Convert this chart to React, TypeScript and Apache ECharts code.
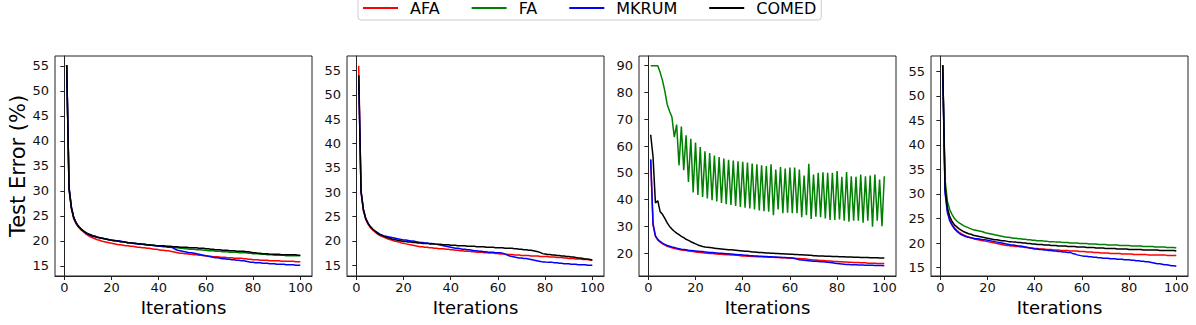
import React, { useEffect, useRef } from "react";
import * as echarts from "echarts";

const seriesNames = ["AFA", "FA", "MKRUM", "COMED"];
const seriesColors = ["#ff0000", "#008000", "#0000ff", "#000000"];
const iterations = Array.from({ length: 100 }, (_, i) => i + 1);
const xTicks = [0, 20, 40, 60, 80, 100];
const yTicksSmall = [15, 20, 25, 30, 35, 40, 45, 50, 55];
const yTicksLarge = [20, 30, 40, 50, 60, 70, 80, 90];

// Panel 1
const p1Afa = [55.2, 30.2, 26.4, 24.4, 23.4, 22.7, 22.2, 21.8, 21.4, 21.1,
  20.8, 20.6, 20.4, 20.2, 20.1, 19.9, 19.8, 19.7, 19.6, 19.5,
  19.4, 19.3, 19.2, 19.2, 19.1, 19.0, 19.0, 18.9, 18.9, 18.8,
  18.7, 18.7, 18.6, 18.6, 18.5, 18.5, 18.4, 18.3, 18.3, 18.2,
  18.1, 18.1, 18.0, 18.0, 17.9, 17.8, 17.7, 17.6, 17.5, 17.5,
  17.4, 17.4, 17.3, 17.3, 17.2, 17.2, 17.1, 17.1, 17.0, 17.0,
  16.9, 16.9, 16.8, 16.8, 16.8, 16.7, 16.7, 16.7, 16.6, 16.6,
  16.6, 16.5, 16.5, 16.5, 16.5, 16.4, 16.4, 16.3, 16.3, 16.2,
  16.2, 16.2, 16.1, 16.1, 16.1, 16.1, 16.0, 16.0, 16.0, 16.0,
  16.0, 15.9, 15.9, 15.9, 15.9, 15.9, 15.9, 15.8, 15.8, 15.8];
const p1Fa = [55.2, 30.5, 26.6, 24.6, 23.6, 22.9, 22.4, 22.0, 21.7, 21.4,
  21.2, 21.0, 20.9, 20.7, 20.6, 20.5, 20.4, 20.3, 20.2, 20.1,
  20.0, 20.0, 19.9, 19.8, 19.8, 19.7, 19.6, 19.6, 19.5, 19.5,
  19.4, 19.4, 19.3, 19.3, 19.2, 19.2, 19.1, 19.1, 19.0, 19.0,
  19.0, 18.9, 18.9, 18.8, 18.8, 18.7, 18.6, 18.6, 18.5, 18.5,
  18.4, 18.4, 18.3, 18.3, 18.3, 18.2, 18.2, 18.2, 18.1, 18.1,
  18.0, 18.0, 18.0, 17.9, 17.9, 17.9, 17.8, 17.8, 17.8, 17.7,
  17.7, 17.7, 17.7, 17.6, 17.6, 17.6, 17.6, 17.5, 17.5, 17.4,
  17.4, 17.4, 17.3, 17.3, 17.3, 17.2, 17.2, 17.2, 17.1, 17.1,
  17.1, 17.1, 17.1, 17.0, 17.0, 17.0, 17.0, 17.0, 17.0, 17.0];
const p1Mkrum = [55.2, 30.8, 26.8, 24.7, 23.6, 22.9, 22.4, 22.0, 21.6, 21.3,
  21.1, 20.9, 20.8, 20.7, 20.6, 20.5, 20.4, 20.3, 20.2, 20.1,
  20.1, 20.0, 20.0, 19.9, 19.8, 19.7, 19.6, 19.6, 19.5, 19.4,
  19.4, 19.3, 19.3, 19.2, 19.2, 19.1, 19.1, 19.0, 19.0, 18.9,
  18.9, 18.8, 18.8, 18.7, 18.7, 18.6, 18.3, 18.1, 18.0, 17.9,
  17.8, 17.7, 17.6, 17.6, 17.5, 17.4, 17.3, 17.2, 17.1, 17.0,
  16.9, 16.8, 16.7, 16.6, 16.6, 16.5, 16.4, 16.4, 16.3, 16.3,
  16.2, 16.2, 16.1, 16.1, 16.0, 16.0, 15.9, 15.8, 15.7, 15.7,
  15.6, 15.6, 15.6, 15.5, 15.5, 15.5, 15.4, 15.4, 15.4, 15.3,
  15.3, 15.3, 15.3, 15.2, 15.2, 15.2, 15.2, 15.1, 15.1, 15.1];
const p1Comed = [55.2, 30.5, 26.6, 24.6, 23.6, 22.9, 22.4, 22.0, 21.7, 21.4,
  21.2, 21.0, 20.9, 20.7, 20.6, 20.5, 20.4, 20.3, 20.2, 20.1,
  20.0, 20.0, 19.9, 19.8, 19.8, 19.7, 19.6, 19.6, 19.5, 19.5,
  19.4, 19.4, 19.3, 19.3, 19.2, 19.2, 19.1, 19.1, 19.0, 19.0,
  19.0, 19.0, 18.9, 18.9, 18.9, 18.8, 18.8, 18.8, 18.7, 18.7,
  18.7, 18.7, 18.6, 18.6, 18.6, 18.6, 18.5, 18.5, 18.5, 18.4,
  18.4, 18.3, 18.3, 18.2, 18.2, 18.2, 18.1, 18.1, 18.1, 18.0,
  18.0, 18.0, 17.9, 17.9, 17.9, 17.9, 17.8, 17.8, 17.7, 17.6,
  17.6, 17.5, 17.5, 17.4, 17.4, 17.4, 17.3, 17.3, 17.3, 17.3,
  17.3, 17.2, 17.2, 17.2, 17.2, 17.2, 17.2, 17.2, 17.1, 17.1];

// Panel 2
const p2Afa = [56.0, 30.0, 26.2, 24.4, 23.4, 22.7, 22.2, 21.8, 21.4, 21.1,
  20.9, 20.7, 20.5, 20.3, 20.2, 20.0, 19.9, 19.8, 19.6, 19.5,
  19.4, 19.3, 19.2, 19.1, 19.0, 18.9, 18.8, 18.8, 18.7, 18.7,
  18.6, 18.6, 18.5, 18.5, 18.4, 18.4, 18.4, 18.3, 18.3, 18.2,
  18.2, 18.1, 18.1, 18.0, 18.0, 17.9, 17.9, 17.9, 17.8, 17.8,
  17.7, 17.7, 17.7, 17.6, 17.6, 17.5, 17.5, 17.5, 17.4, 17.4,
  17.3, 17.3, 17.3, 17.2, 17.2, 17.2, 17.1, 17.1, 17.1, 17.0,
  17.0, 17.0, 17.0, 16.9, 16.9, 16.9, 16.9, 16.8, 16.8, 16.8,
  16.8, 16.7, 16.7, 16.7, 16.6, 16.6, 16.6, 16.5, 16.5, 16.4,
  16.4, 16.4, 16.3, 16.3, 16.3, 16.2, 16.2, 16.2, 16.1, 16.1];
const p2Mkrum = [54.0, 30.3, 26.5, 24.6, 23.6, 22.9, 22.4, 22.0, 21.7, 21.4,
  21.2, 21.0, 20.9, 20.8, 20.7, 20.6, 20.5, 20.4, 20.3, 20.2,
  20.2, 20.1, 20.0, 20.0, 19.9, 19.8, 19.7, 19.7, 19.6, 19.6,
  19.5, 19.5, 19.4, 19.3, 19.2, 19.1, 19.0, 18.9, 18.8, 18.7,
  18.6, 18.5, 18.5, 18.4, 18.3, 18.3, 18.2, 18.2, 18.1, 18.0,
  18.0, 17.9, 17.9, 17.8, 17.8, 17.7, 17.7, 17.7, 17.6, 17.6,
  17.6, 17.5, 17.3, 17.1, 16.9, 16.8, 16.7, 16.6, 16.5, 16.5,
  16.4, 16.4, 16.3, 16.2, 16.1, 16.0, 15.9, 15.8, 15.7, 15.7,
  15.6, 15.6, 15.6, 15.5, 15.5, 15.4, 15.4, 15.3, 15.3, 15.3,
  15.2, 15.2, 15.2, 15.1, 15.1, 15.1, 15.1, 15.0, 15.0, 15.0];
const p2Comed = [54.0, 30.2, 26.4, 24.6, 23.6, 22.9, 22.4, 22.0, 21.6, 21.3,
  21.1, 20.9, 20.7, 20.6, 20.4, 20.3, 20.2, 20.1, 20.0, 19.9,
  19.9, 19.8, 19.8, 19.7, 19.7, 19.6, 19.6, 19.5, 19.5, 19.5,
  19.4, 19.4, 19.4, 19.3, 19.3, 19.3, 19.2, 19.2, 19.2, 19.1,
  19.1, 19.1, 19.0, 19.0, 19.0, 19.0, 18.9, 18.9, 18.9, 18.9,
  18.8, 18.8, 18.8, 18.8, 18.7, 18.7, 18.7, 18.7, 18.6, 18.6,
  18.6, 18.6, 18.5, 18.5, 18.5, 18.5, 18.4, 18.4, 18.3, 18.3,
  18.2, 18.2, 18.1, 18.1, 18.0, 17.9, 17.8, 17.6, 17.4, 17.3,
  17.2, 17.2, 17.1, 17.1, 17.0, 17.0, 16.9, 16.9, 16.8, 16.8,
  16.7, 16.7, 16.6, 16.5, 16.5, 16.4, 16.3, 16.3, 16.2, 16.1];

// Panel 3
const p3Afa = [55.0, 30.5, 26.3, 24.9, 24.1, 23.5, 23.0, 22.6, 22.3, 22.0,
  21.8, 21.6, 21.4, 21.2, 21.1, 21.0, 20.8, 20.7, 20.6, 20.5,
  20.4, 20.3, 20.2, 20.1, 20.0, 19.9, 19.9, 19.8, 19.7, 19.6,
  19.6, 19.5, 19.4, 19.4, 19.3, 19.3, 19.2, 19.2, 19.1, 19.0,
  19.0, 18.9, 18.9, 18.8, 18.8, 18.7, 18.7, 18.7, 18.6, 18.6,
  18.5, 18.5, 18.5, 18.4, 18.4, 18.3, 18.3, 18.3, 18.2, 18.2,
  18.1, 18.1, 18.0, 18.0, 17.9, 17.9, 17.8, 17.7, 17.6, 17.5,
  17.5, 17.4, 17.3, 17.3, 17.2, 17.1, 17.1, 17.0, 16.9, 16.9,
  16.8, 16.8, 16.7, 16.7, 16.6, 16.6, 16.5, 16.5, 16.5, 16.4,
  16.4, 16.4, 16.3, 16.3, 16.3, 16.3, 16.2, 16.2, 16.2, 16.2];
const p3Fa = [90.0, 90.0, 90.0, 90.0, 87.5, 84.5, 80.5, 75.5, 73.0, 70.8,
  63.3, 68.0, 52.8, 67.3, 51.0, 64.0, 46.6, 62.7, 42.7, 61.3,
  41.7, 59.6, 41.0, 58.0, 40.4, 57.4, 39.8, 56.5, 39.3, 55.9,
  38.8, 55.3, 38.3, 54.9, 38.0, 54.6, 37.6, 54.3, 37.3, 54.1,
  37.0, 53.8, 36.7, 53.5, 36.3, 53.2, 36.0, 52.8, 35.7, 52.5,
  35.5, 53.2, 34.2, 51.2, 36.3, 52.2, 34.9, 51.6, 35.1, 52.0,
  34.9, 52.0, 34.9, 51.2, 33.4, 49.0, 34.2, 53.4, 32.8, 49.4,
  33.6, 50.0, 33.4, 50.2, 33.0, 50.0, 32.4, 50.0, 32.4, 50.7,
  32.6, 48.5, 32.1, 50.3, 31.8, 48.7, 32.1, 48.5, 32.1, 49.4,
  31.4, 48.7, 32.1, 49.0, 29.9, 49.4, 32.1, 47.5, 30.1, 48.7];
const p3Mkrum = [55.0, 31.0, 26.6, 25.2, 24.4, 23.8, 23.3, 22.9, 22.6, 22.3,
  22.1, 21.9, 21.7, 21.5, 21.4, 21.3, 21.1, 21.0, 20.9, 20.8,
  20.7, 20.6, 20.6, 20.5, 20.4, 20.3, 20.3, 20.2, 20.1, 20.0,
  20.0, 19.9, 19.8, 19.8, 19.7, 19.6, 19.5, 19.4, 19.4, 19.3,
  19.2, 19.2, 19.1, 19.1, 19.0, 19.0, 18.9, 18.9, 18.8, 18.8,
  18.7, 18.7, 18.6, 18.6, 18.5, 18.5, 18.4, 18.4, 18.3, 18.3,
  18.2, 18.0, 17.8, 17.6, 17.5, 17.4, 17.3, 17.2, 17.1, 17.0,
  17.0, 16.9, 16.8, 16.8, 16.7, 16.6, 16.5, 16.4, 16.3, 16.2,
  16.1, 16.0, 15.9, 15.8, 15.8, 15.7, 15.7, 15.7, 15.6, 15.6,
  15.6, 15.5, 15.5, 15.5, 15.5, 15.4, 15.4, 15.4, 15.4, 15.3];
const p3Comed = [64.2, 56.0, 38.8, 39.6, 35.5, 34.5, 33.0, 31.3, 30.0, 29.0,
  28.2, 27.5, 26.9, 26.3, 25.8, 25.2, 24.8, 24.3, 23.9, 23.5,
  23.1, 22.8, 22.5, 22.3, 22.2, 22.1, 22.0, 21.9, 21.8, 21.7,
  21.6, 21.5, 21.4, 21.3, 21.3, 21.2, 21.1, 21.0, 20.9, 20.8,
  20.7, 20.7, 20.6, 20.5, 20.5, 20.4, 20.3, 20.3, 20.2, 20.1,
  20.1, 20.0, 20.0, 19.9, 19.9, 19.8, 19.8, 19.7, 19.7, 19.6,
  19.6, 19.5, 19.5, 19.4, 19.4, 19.3, 19.3, 19.2, 19.2, 19.1,
  19.1, 19.0, 19.0, 19.0, 18.9, 18.9, 18.9, 18.8, 18.8, 18.8,
  18.7, 18.7, 18.7, 18.6, 18.6, 18.6, 18.5, 18.5, 18.5, 18.4,
  18.4, 18.4, 18.4, 18.3, 18.3, 18.3, 18.3, 18.2, 18.2, 18.2];

// Panel 4
const p4Afa = [56.2, 30.8, 26.6, 24.8, 23.8, 23.1, 22.6, 22.2, 21.9, 21.6,
  21.4, 21.2, 21.1, 20.9, 20.8, 20.7, 20.6, 20.5, 20.4, 20.3,
  20.2, 20.1, 20.0, 19.9, 19.8, 19.7, 19.6, 19.5, 19.5, 19.4,
  19.4, 19.3, 19.3, 19.2, 19.2, 19.1, 19.1, 19.0, 19.0, 18.9,
  18.9, 18.8, 18.8, 18.8, 18.7, 18.7, 18.7, 18.6, 18.6, 18.6,
  18.5, 18.5, 18.5, 18.5, 18.4, 18.4, 18.4, 18.4, 18.3, 18.3,
  18.3, 18.2, 18.2, 18.2, 18.1, 18.1, 18.1, 18.0, 18.0, 18.0,
  18.0, 17.9, 17.9, 17.9, 17.9, 17.9, 17.8, 17.8, 17.8, 17.8,
  17.8, 17.7, 17.7, 17.7, 17.7, 17.7, 17.7, 17.6, 17.6, 17.6,
  17.6, 17.6, 17.6, 17.6, 17.6, 17.5, 17.5, 17.5, 17.5, 17.5];
const p4Fa = [56.2, 33.0, 28.5, 26.8, 25.8, 25.0, 24.5, 24.1, 23.8, 23.5,
  23.3, 23.1, 22.9, 22.7, 22.6, 22.5, 22.4, 22.3, 22.1, 22.0,
  21.9, 21.8, 21.7, 21.6, 21.5, 21.4, 21.3, 21.2, 21.2, 21.1,
  21.0, 21.0, 20.9, 20.9, 20.8, 20.8, 20.7, 20.7, 20.6, 20.6,
  20.5, 20.5, 20.5, 20.4, 20.4, 20.3, 20.3, 20.3, 20.2, 20.2,
  20.2, 20.1, 20.1, 20.1, 20.0, 20.0, 20.0, 20.0, 19.9, 19.9,
  19.9, 19.9, 19.8, 19.8, 19.8, 19.8, 19.7, 19.7, 19.7, 19.7,
  19.6, 19.6, 19.6, 19.6, 19.6, 19.5, 19.5, 19.5, 19.5, 19.5,
  19.4, 19.4, 19.4, 19.4, 19.4, 19.3, 19.3, 19.3, 19.3, 19.3,
  19.2, 19.2, 19.2, 19.2, 19.2, 19.1, 19.1, 19.1, 19.1, 19.0];
const p4Mkrum = [56.2, 30.2, 26.2, 24.5, 23.6, 22.9, 22.4, 22.0, 21.7, 21.5,
  21.3, 21.2, 21.1, 21.0, 20.9, 20.9, 20.8, 20.7, 20.7, 20.6,
  20.5, 20.4, 20.3, 20.2, 20.1, 20.0, 19.9, 19.8, 19.7, 19.6,
  19.6, 19.5, 19.4, 19.4, 19.3, 19.2, 19.1, 19.0, 18.9, 18.8,
  18.8, 18.7, 18.7, 18.6, 18.6, 18.5, 18.5, 18.4, 18.4, 18.3,
  18.3, 18.2, 18.2, 18.1, 18.1, 17.9, 17.8, 17.6, 17.5, 17.4,
  17.3, 17.3, 17.2, 17.2, 17.1, 17.1, 17.0, 17.0, 16.9, 16.9,
  16.9, 16.8, 16.8, 16.8, 16.7, 16.7, 16.7, 16.6, 16.6, 16.6,
  16.5, 16.5, 16.4, 16.4, 16.3, 16.3, 16.2, 16.2, 16.1, 16.0,
  15.9, 15.8, 15.8, 15.7, 15.6, 15.6, 15.5, 15.4, 15.4, 15.3];
const p4Comed = [56.2, 31.5, 27.2, 25.4, 24.4, 23.7, 23.3, 22.9, 22.6, 22.3,
  22.1, 21.9, 21.8, 21.6, 21.5, 21.4, 21.3, 21.2, 21.1, 21.0,
  20.9, 20.8, 20.7, 20.7, 20.6, 20.5, 20.5, 20.4, 20.3, 20.3,
  20.2, 20.2, 20.1, 20.1, 20.0, 20.0, 19.9, 19.9, 19.8, 19.8,
  19.7, 19.7, 19.7, 19.6, 19.6, 19.6, 19.5, 19.5, 19.5, 19.4,
  19.4, 19.4, 19.4, 19.3, 19.3, 19.3, 19.3, 19.2, 19.2, 19.2,
  19.2, 19.1, 19.1, 19.1, 19.1, 19.0, 19.0, 19.0, 19.0, 18.9,
  18.9, 18.9, 18.9, 18.9, 18.8, 18.8, 18.8, 18.8, 18.8, 18.7,
  18.7, 18.7, 18.7, 18.7, 18.7, 18.6, 18.6, 18.6, 18.6, 18.6,
  18.6, 18.6, 18.5, 18.5, 18.5, 18.5, 18.5, 18.5, 18.5, 18.4];

const panels = [
  { series: [p1Afa, p1Fa, p1Mkrum, p1Comed], yMin: 12.95, yMax: 57.0, yTicks: yTicksSmall },
  { series: [p2Afa, null, p2Mkrum, p2Comed], yMin: 12.8, yMax: 58.0, yTicks: yTicksSmall },
  { series: [p3Afa, p3Fa, p3Mkrum, p3Comed], yMin: 11.5, yMax: 93.6, yTicks: yTicksLarge },
  { series: [p4Afa, p4Fa, p4Mkrum, p4Comed], yMin: 13.3, yMax: 58.1, yTicks: yTicksSmall },
];

const gridLefts = [55, 347, 639, 931];

export default function App() {
  const ref = useRef<HTMLDivElement>(null);
  useEffect(() => {
    document.body.style.margin = "0";
    if (!ref.current) return;
    const chart = echarts.init(ref.current, undefined, { renderer: "svg" });
    const font = "DejaVu Sans";
    const axisColor = "#222";
    const grid = gridLefts.map((left) => ({
      left, top: 56, width: 257, height: 220,
      show: true, borderColor: axisColor, borderWidth: 1, containLabel: false,
    }));
    const xAxis = panels.map((_, i) => ({
      type: "value", gridIndex: i, min: -3.95, max: 104.95,
      name: "Iterations", nameLocation: "middle", nameGap: 22,
      nameTextStyle: { fontSize: 18, fontFamily: font, color: "#000" },
      axisLine: { show: true, lineStyle: { color: axisColor } },
      axisTick: { show: true, inside: false, length: 4, customValues: xTicks, lineStyle: { color: axisColor } },
      axisLabel: { customValues: xTicks, margin: 5, fontSize: 13, fontFamily: font, color: "#111" },
      splitLine: { show: false },
    }));
    const yAxis = panels.map((p, i) => ({
      type: "value", gridIndex: i, min: p.yMin, max: p.yMax,
      name: i === 0 ? "Test Error (%)" : "", nameLocation: "middle", nameGap: 27,
      nameTextStyle: { fontSize: 21, fontFamily: font, color: "#000" },
      axisLine: { show: true, lineStyle: { color: axisColor } },
      axisTick: { show: true, inside: false, length: 4, customValues: p.yTicks, lineStyle: { color: axisColor } },
      axisLabel: { customValues: p.yTicks, margin: 6, fontSize: 13, fontFamily: font, color: "#111" },
      splitLine: { show: false },
    }));
    const series: any[] = [];
    panels.forEach((p, i) => {
      p.series.forEach((vals, k) => {
        if (!vals) return;
        series.push({
          type: "line", name: seriesNames[k], xAxisIndex: i, yAxisIndex: i,
          data: vals.map((v, j) => [iterations[j], v]),
          showSymbol: false, symbol: "none",
          lineStyle: { color: seriesColors[k], width: 1.5 },
          itemStyle: { color: seriesColors[k] },
        });
      });
    });
    chart.setOption({
      animation: false,
      textStyle: { fontFamily: font },
      legend: {
        data: seriesNames.map((n) => ({ name: n, icon: "rect" })),
        left: 358, top: -4, orient: "horizontal",
        padding: [4, 5, 4, 5], itemGap: 32, itemWidth: 35, itemHeight: 2,
        borderColor: "#cccccc", borderWidth: 1, borderRadius: 3,
        backgroundColor: "rgba(255,255,255,0.8)",
        textStyle: { fontSize: 16, fontFamily: font, color: "#000", padding: [0, 0, 0, 7] },
        selectedMode: false,
      },
      grid, xAxis, yAxis, series,
    });
    return () => chart.dispose();
  }, []);
  return <div ref={ref} style={{ width: 1196, height: 325 }} />;
}
